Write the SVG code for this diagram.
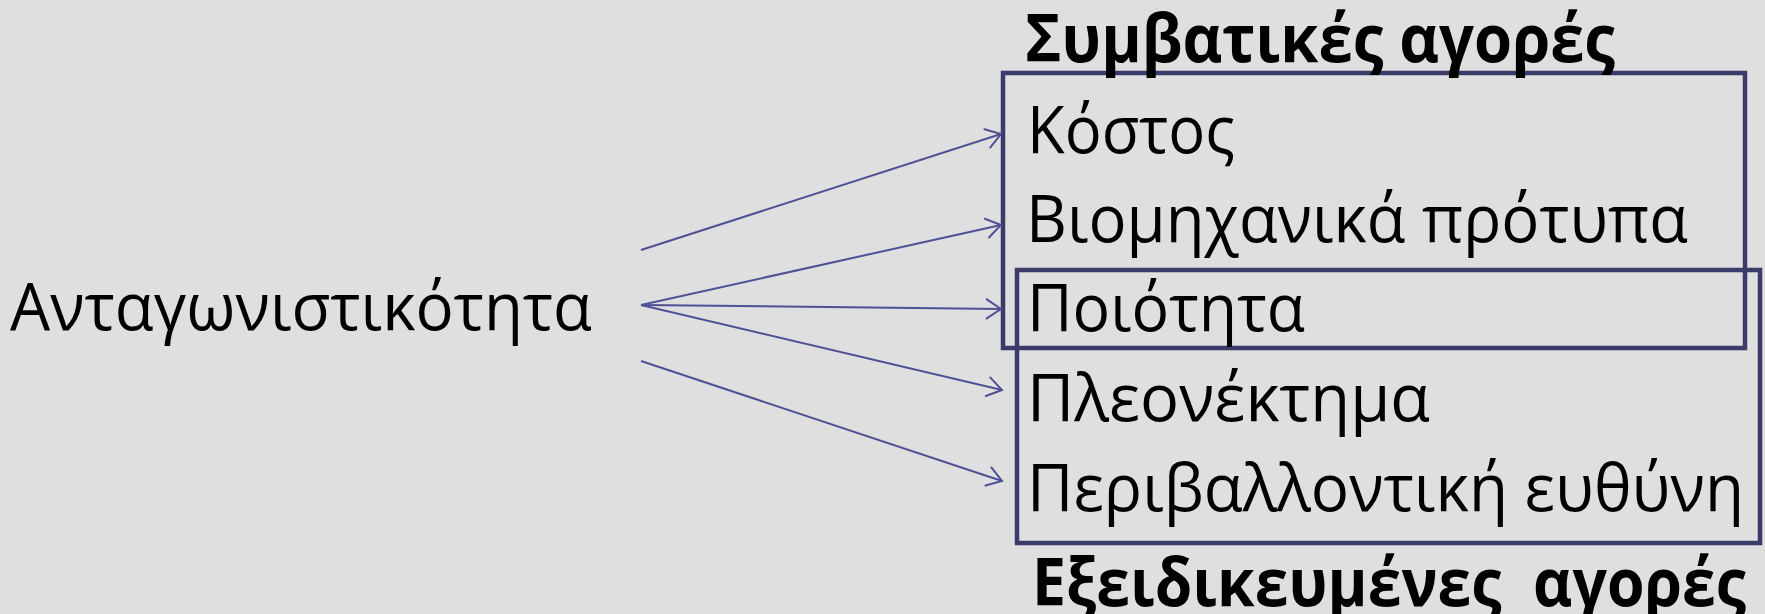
<svg xmlns="http://www.w3.org/2000/svg" width="1765" height="614" viewBox="0 0 1765 614">
<style>
.t{font-family:"Open Sans","Noto Sans","DejaVu Sans",sans-serif;font-size:66px;fill:#000}
.b{font-family:"Open Sans","Noto Sans","DejaVu Sans",sans-serif;font-size:66px;font-weight:bold;fill:#000;white-space:pre}
.box{fill:none;stroke:#3b3b69;stroke-width:4.5}
.ar{fill:none;stroke:#4f5195;stroke-width:2;marker-end:url(#h)}
</style>
<defs>
<marker id="h" markerUnits="userSpaceOnUse" markerWidth="20" markerHeight="24" refX="17" refY="11" orient="auto">
<path d="M2,1 L17,11 L2,21" fill="none" stroke="#4f5195" stroke-width="2"/>
</marker>
</defs>
<rect width="1765" height="614" fill="#dfdfdf"/>
<g id="source">
<text class="t" x="10" y="330" textLength="582" lengthAdjust="spacingAndGlyphs">Ανταγωνιστικότητα</text>
</g>
<g id="conventional">
<rect class="box" x="1003" y="73" width="742" height="275"/>
<text class="b" x="1025" y="62" textLength="590" lengthAdjust="spacingAndGlyphs">Συμβατικές αγορές</text>
</g>
<g id="specialized">
<rect class="box" x="1017" y="270" width="743" height="273"/>
<text class="b" x="1032" y="606" textLength="714" lengthAdjust="spacingAndGlyphs">Εξειδικευμένες  αγορές</text>
</g>
<g id="items">
<text class="t" x="1027" y="153" textLength="208" lengthAdjust="spacingAndGlyphs">Κόστος</text>
<text class="t" x="1026" y="242" textLength="662" lengthAdjust="spacingAndGlyphs">Βιομηχανικά πρότυπα</text>
<text class="t" x="1027" y="331" textLength="278" lengthAdjust="spacingAndGlyphs">Ποιότητα</text>
<text class="t" x="1027" y="421" textLength="403" lengthAdjust="spacingAndGlyphs">Πλεονέκτημα</text>
<text class="t" x="1027" y="511" textLength="717" lengthAdjust="spacingAndGlyphs">Περιβαλλοντική ευθύνη</text>
</g>
<g id="connectors">
<line class="ar" x1="641" y1="250" x2="1001" y2="134"/>
<line class="ar" x1="641" y1="305" x2="1001" y2="225"/>
<line class="ar" x1="641" y1="305" x2="1001" y2="309"/>
<line class="ar" x1="641" y1="305" x2="1002" y2="390"/>
<line class="ar" x1="641" y1="361" x2="1002" y2="481"/>
</g>
</svg>
